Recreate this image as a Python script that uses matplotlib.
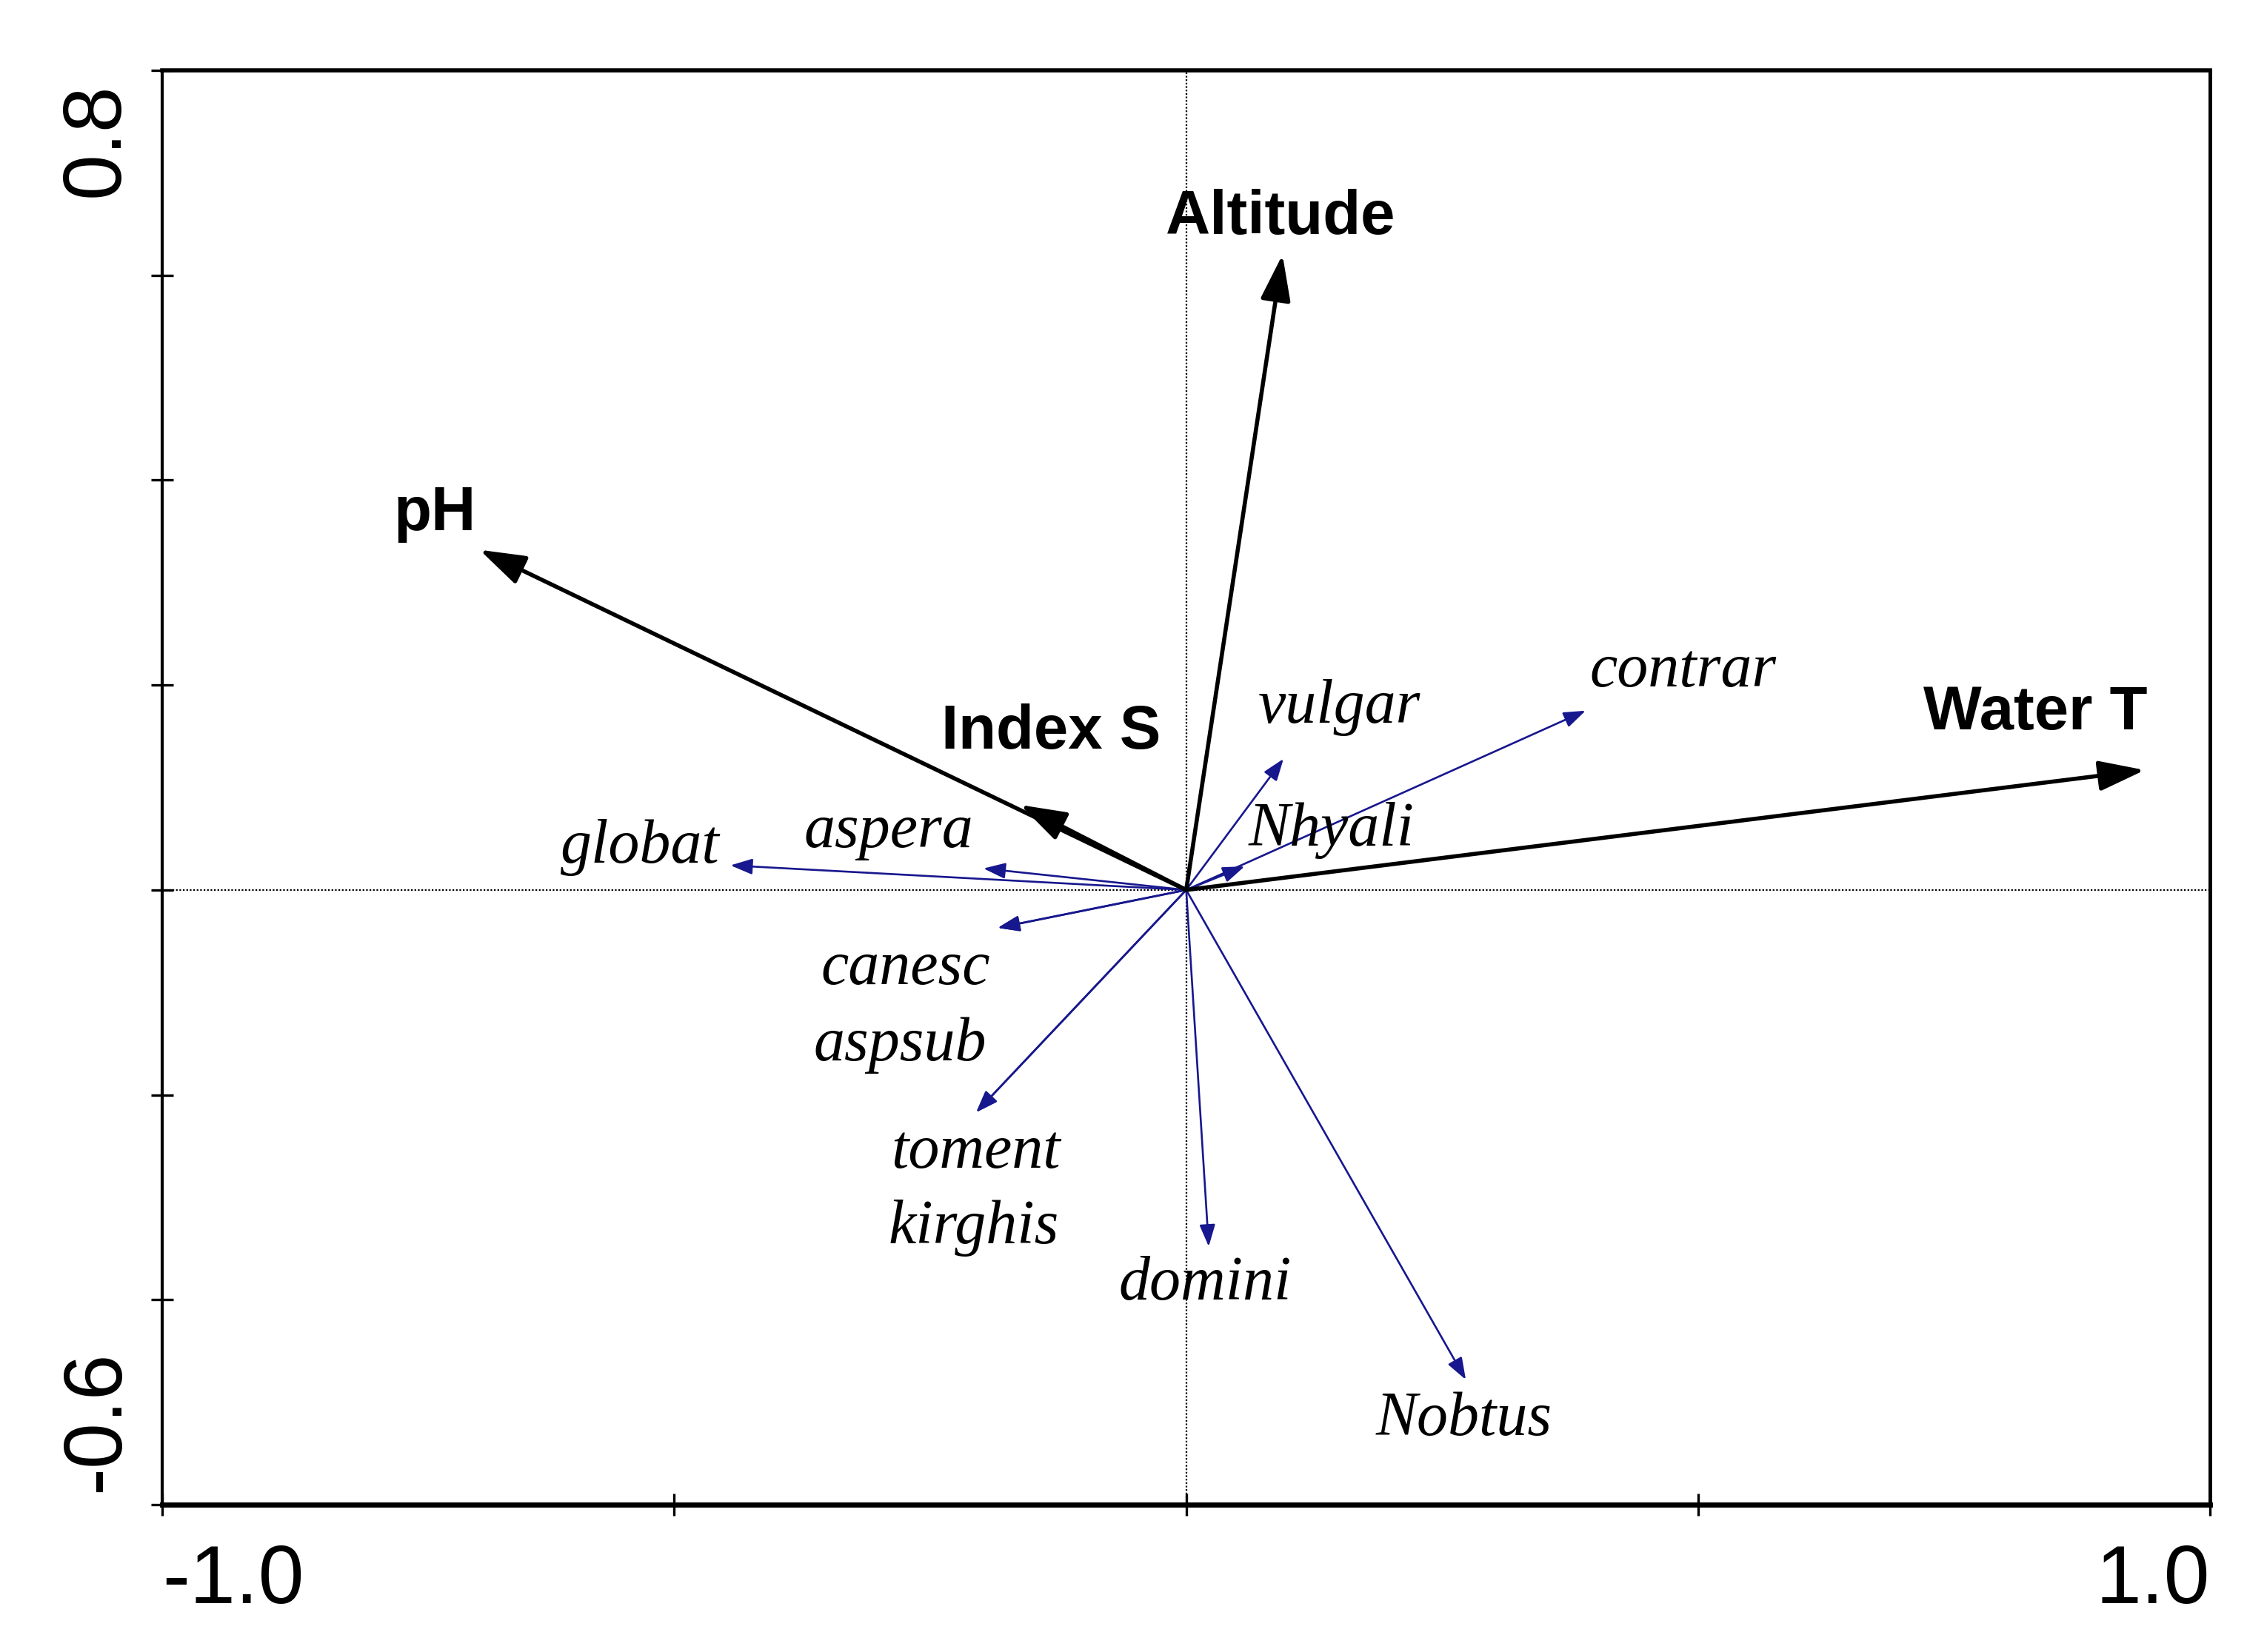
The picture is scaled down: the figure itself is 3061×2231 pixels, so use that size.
import matplotlib
matplotlib.use('Agg')
import matplotlib.pyplot as plt
from matplotlib.transforms import blended_transform_factory

# environmental variables (biplot scores, axis 1 / axis 2)
env_names = ['Altitude', 'pH', 'Water T', 'Index S']
env_x = [0.094, -0.690, 0.936, -0.162]
env_y = [0.620, 0.332, 0.117, 0.083]

# species scores
sp_names = ['contrar', 'vulgar', 'Nhyali', 'globat', 'aspera', 'canesc',
            'aspsub', 'toment', 'kirghis', 'domini', 'Nobtus']
sp_x = [0.390, 0.095, 0.057, -0.445, -0.198, -0.184,
        -0.184, -0.205, -0.205, 0.022, 0.273]
sp_y = [0.175, 0.128, 0.023, 0.024, 0.021, -0.037,
        -0.037, -0.217, -0.217, -0.348, -0.478]

# where the labels sit (left edge / baseline, data units)
env_lab = {'Altitude': (0.0925, 0.640, 'center'),
           'pH': (-0.774, 0.351, 'left'),
           'Water T': (0.720, 0.157, 'left'),
           'Index S': (-0.239, 0.138, 'left')}
sp_lab = {'contrar': (0.394, 0.199), 'vulgar': (0.070, 0.163),
          'Nhyali': (0.061, 0.043), 'globat': (-0.611, 0.027),
          'aspera': (-0.373, 0.042), 'canesc': (-0.357, -0.092),
          'aspsub': (-0.364, -0.166), 'toment': (-0.288, -0.271),
          'kirghis': (-0.291, -0.345), 'domini': (-0.066, -0.400),
          'Nobtus': (0.185, -0.532)}

blue = '#17178e'
sans = ['Liberation Sans', 'Arial', 'DejaVu Sans']
serif = ['Liberation Serif', 'Times New Roman', 'DejaVu Serif']

fig = plt.figure(figsize=(30.61, 22.31), dpi=100)
ax = fig.add_axes([0.0715, 0.0892, 0.9035, 0.8682])
ax.set_xlim(-1.0, 1.0)
ax.set_ylim(-0.6, 0.8)

# crosshair through the origin
ax.axhline(0, color='black', lw=1.6, ls=(0, (1, 1.1)), zorder=1)
ax.axvline(0, color='black', lw=1.6, ls=(0, (1, 1.1)), zorder=1)

# species arrows
for nm, x, y in zip(sp_names, sp_x, sp_y):
    ax.annotate('', xy=(x, y), xytext=(0, 0),
                arrowprops=dict(arrowstyle='-|>,head_length=1.8,head_width=0.65',
                                mutation_scale=10, lw=1.9, color=blue,
                                shrinkA=0, shrinkB=0), zorder=2)
    lx, ly = sp_lab[nm]
    ax.text(lx, ly, nm, fontsize=60.5, style='italic', family=serif,
            ha='left', va='baseline', zorder=4)

# environmental arrows
for nm, x, y in zip(env_names, env_x, env_y):
    ax.annotate('', xy=(x, y), xytext=(0, 0),
                arrowprops=dict(arrowstyle='-|>,head_length=3.8,head_width=1.25',
                                mutation_scale=10, lw=4.0, color='black',
                                shrinkA=0, shrinkB=0), zorder=3)
    lx, ly, ha = env_lab[nm]
    ax.text(lx, ly, nm, fontsize=60, fontweight='bold', family=sans,
            ha=ha, va='baseline', zorder=4)

# ticks: only the ends carry labels
ax.set_xticks([-1.0, -0.5, 0.0, 0.5, 1.0])
ax.set_yticks([-0.6, -0.4, -0.2, 0.0, 0.2, 0.4, 0.6, 0.8])
ax.set_xticklabels([])
ax.set_yticklabels([])
ax.tick_params(direction='inout', length=22, width=2.4, color='black')

ax.spines['top'].set_linewidth(4)
ax.spines['left'].set_linewidth(3)
ax.spines['right'].set_linewidth(3.6)
ax.spines['bottom'].set_linewidth(5)

tx = blended_transform_factory(ax.transData, ax.transAxes)
ax.text(-1.0, -0.0687, '-1.0', transform=tx, fontsize=80, family=sans,
        ha='left', va='baseline', clip_on=False)
ax.text(1.0, -0.0687, '1.0', transform=tx, fontsize=80, family=sans,
        ha='right', va='baseline', clip_on=False)

ty = blended_transform_factory(ax.transAxes, ax.transData)
ax.text(-0.0213, 0.788, '0.8', transform=ty, fontsize=80, family=sans,
        rotation=90, rotation_mode='anchor', ha='right', va='baseline',
        clip_on=False)
ax.text(-0.0213, -0.588, '-0.6', transform=ty, fontsize=80, family=sans,
        rotation=90, rotation_mode='anchor', ha='left', va='baseline',
        clip_on=False)

fig.savefig('out.png', dpi=100, facecolor='white')
